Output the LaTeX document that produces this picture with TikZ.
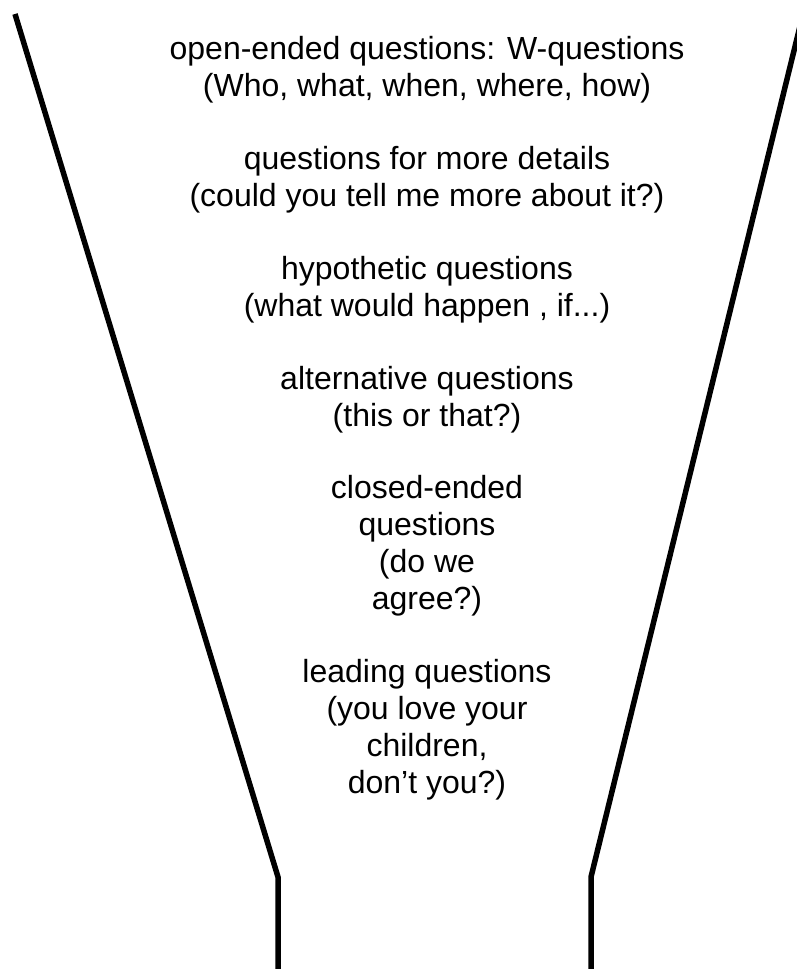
\documentclass[tikz,border=0pt]{standalone}
\usepackage{fontspec}
\setmainfont{Liberation Sans}
\begin{document}
\begin{tikzpicture}[x=1pt, y=-1pt, font=\fontsize{32}{36.7}\selectfont, funnel/.style={line width=5.5pt}]
		\useasboundingbox (0,0) rectangle (797,969);
		\node[anchor=base, align=center] (open) at (427, 96) {open-ended questions: W-questions\\(Who, what, when, where, how)};
		\node[anchor=base, align=center] (details) at (427, 206) {questions for more details\\(could you tell me more about it?)};
		\node[anchor=base, align=center] (hypo) at (427, 316) {hypothetic questions\\(what would happen , if...)};
		\node[anchor=base, align=center] (alt) at (427, 426) {alternative questions\\(this or that?)};
		\node[anchor=base, align=center] (closed) at (427, 609) {closed-ended\\questions\\(do we\\agree?)};
		\node[anchor=base, align=center] (leading) at (427, 793) {leading questions\\(you love your\\children,\\don’t you?)};

		\draw[funnel] (15, 14) -- (278, 877) -- (278, 969);
		\draw[funnel] (803, 14) -- (591, 877) -- (591, 969);
	\end{tikzpicture}
\end{document}
